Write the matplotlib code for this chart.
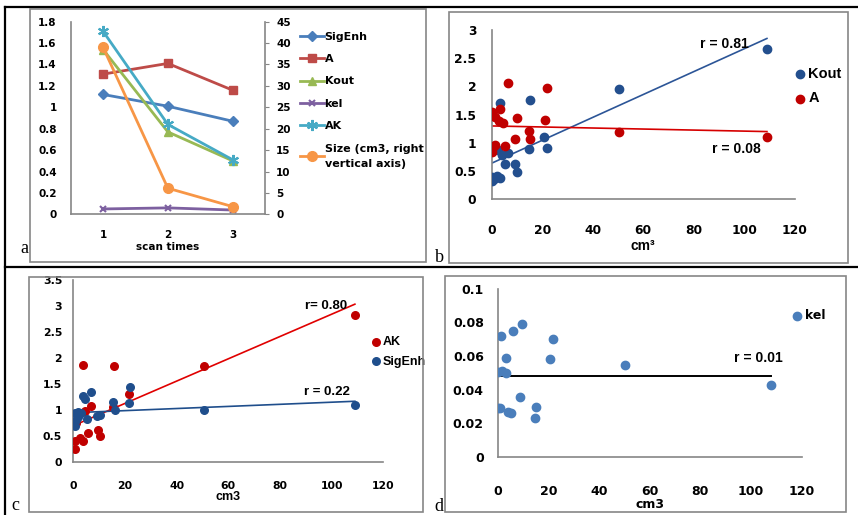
import matplotlib
matplotlib.use("Agg")
import matplotlib.pyplot as plt
from matplotlib.lines import Line2D
from matplotlib.patches import Rectangle
from matplotlib.ticker import FuncFormatter, MultipleLocator

W, H = 858, 515

# (a) mean values per scan
scans = [1, 2, 3]
sigenh_a = [1.12, 1.01, 0.87]
a_a = [1.31, 1.41, 1.16]
kout_a = [1.54, 0.77, 0.50]
kel_a = [0.05, 0.06, 0.04]
ak_a = [1.71, 0.84, 0.51]
size_a = [39.0, 6.1, 1.8]

# (b) Kout and A vs tumour volume
kout_x = [0.3, 1.0, 2.0, 3.3, 0.3, 2.4, 4.2, 6.3, 5.3, 9.2, 9.9, 14.8, 21.9, 20.8, 3.3, 15.2, 50.4, 108.9]
kout_y = [0.32, 0.36, 0.42, 0.37, 0.40, 0.87, 0.78, 0.82, 0.62, 0.63, 0.49, 0.90, 0.91, 1.10, 1.71, 1.76, 1.96, 2.66]
a_x = [0.3, 1.5, 3.4, 2.8, 4.3, 6.3, 9.9, 21.1, 22.0, 14.9, 9.2, 15.3, 5.3, 1.5, 0.4, 0.3, 50.4, 108.9]
a_y = [1.54, 1.45, 1.60, 1.39, 1.36, 2.06, 1.44, 1.41, 1.97, 1.21, 1.06, 1.07, 0.94, 0.96, 0.92, 0.83, 1.19, 1.11]
fit_x_b = [0, 109]
kout_fit = [0.64, 2.85]
a_fit = [1.30, 1.20]

# (c) AK and SigEnh vs tumour volume
ak_x = [0.8, 0.8, 2.5, 3.8, 5.7, 9.6, 10.4, 1.2, 4.5, 6.7, 15.5, 21.4, 3.9, 15.9, 50.7, 109.1]
ak_y = [0.26, 0.41, 0.46, 0.41, 0.56, 0.62, 0.51, 0.76, 0.98, 1.08, 1.05, 1.31, 1.87, 1.85, 1.84, 2.84]
sig_x = [0.8, 0.8, 1.8, 3.1, 1.2, 2.0, 5.4, 9.0, 10.3, 3.6, 4.5, 6.7, 15.4, 16.1, 21.4, 21.8, 50.7, 109.1]
sig_y = [0.69, 0.94, 0.97, 0.94, 0.80, 0.86, 0.82, 0.89, 0.90, 1.27, 1.22, 1.35, 1.15, 1.00, 1.14, 1.44, 1.00, 1.10]
fit_x_c = [0.5, 109]
ak_fit = [0.71, 3.04]
sig_fit = [0.95, 1.17]

# (d) kel vs tumour volume
kel_x = [0.2, 1.6, 3.3, 1.3, 6.2, 9.7, 21.7, 3.3, 20.8, 50.3, 107.8, 8.8, 0.2, 0.9, 4.2, 5.1, 15.0, 14.6]
kel_y = [0.0503, 0.0513, 0.0497, 0.0721, 0.0750, 0.0788, 0.0701, 0.0586, 0.0582, 0.0548, 0.0430,
         0.0355, 0.0293, 0.0293, 0.0269, 0.0261, 0.0295, 0.0233]
fit_x_d = [0, 108]
kel_fit = [0.0481, 0.0481]

GRAY = "#868686"
TICKFONT = "DejaVu Sans"
LABFONT = "Liberation Sans"


def rect(x0, y0, x1, y1):
    return [x0 / W, 1 - y1 / H, (x1 - x0) / W, (y1 - y0) / H]


def gfmt(v, pos):
    return f"{v:g}"


def style_axes(ax, tick_size, xpad, ypad):
    for side in ["top", "right"]:
        ax.spines[side].set_visible(False)
    for side in ["left", "bottom"]:
        ax.spines[side].set_color(GRAY)
        ax.spines[side].set_linewidth(1.2)
    ax.tick_params(axis="both", length=0, labelsize=tick_size)
    ax.tick_params(axis="x", pad=xpad)
    ax.tick_params(axis="y", pad=ypad)
    ax.yaxis.set_major_formatter(FuncFormatter(gfmt))
    for lab in ax.get_xticklabels() + ax.get_yticklabels():
        lab.set_fontfamily(TICKFONT)
        lab.set_fontweight("bold")
    ax.set_facecolor("none")


fig = plt.figure(figsize=(W / 100, H / 100), dpi=100)

# frame: black rules and grey chart boxes
for xs, ys in [([5, 858], [6.5, 6.5]), ([5, 5], [6.5, 515]), ([5, 858], [266.5, 266.5])]:
    fig.add_artist(Line2D([x / W for x in xs], [1 - y / H for y in ys], color="black", lw=1.6))
for x0, y0, x1, y1 in [(30, 8.5, 426, 262), (448.5, 12, 848, 263), (28.5, 277, 423, 512), (445, 276, 846, 512)]:
    fig.add_artist(Rectangle((x0 / W, 1 - y1 / H), (x1 - x0) / W, (y1 - y0) / H,
                             transform=fig.transFigure, fill=False, ec=GRAY, lw=1.2))

for letter, x, y in [("a", 20, 253), ("b", 435, 262), ("c", 11, 510), ("d", 434, 511)]:
    fig.text(x / W, 1 - y / H, letter, family="Liberation Serif", fontsize=13, va="baseline")

# ---- panel a
ax = fig.add_axes(rect(70.7, 21.7, 265, 214.3))
ax2 = ax.twinx()
ax.plot(scans, sigenh_a, color="#4A7EBB", lw=2, marker="D", ms=5, label="SigEnh")
ax.plot(scans, a_a, color="#BE4B48", lw=2, marker="s", ms=6, label="A")
ax.plot(scans, kout_a, color="#98B954", lw=2, marker="^", ms=6, label="Kout")
ax.plot(scans, kel_a, color="#7D60A0", lw=2, marker="x", ms=5, mew=1.5, label="kel")
ax.plot(scans, ak_a, color="#46AAC5", lw=2, marker=(6, 2, 0), ms=8, mew=1.5, label="AK")
ax2.plot(scans, size_a, color="#F79646", lw=2, marker="o", ms=7, label="Size (cm3, right\nvertical axis)")
ax.set_xlim(0.5, 3.5)
ax.set_ylim(0, 1.8)
ax2.set_ylim(0, 45)
ax.set_xticks(scans)
ax.yaxis.set_major_locator(MultipleLocator(0.2))
ax2.yaxis.set_major_locator(MultipleLocator(5))
style_axes(ax, 7.5, 11, 10)
ax2.spines["top"].set_visible(False)
ax2.spines["left"].set_visible(False)
ax2.spines["bottom"].set_visible(False)
ax2.spines["right"].set_color(GRAY)
ax2.spines["right"].set_linewidth(1.2)
ax2.tick_params(axis="y", length=3, color=GRAY, labelsize=7.5, pad=5)
for lab in ax2.get_yticklabels():
    lab.set_fontfamily(TICKFONT)
    lab.set_fontweight("bold")
ax.set_xlabel("scan times", family=TICKFONT, fontweight="bold", fontsize=7.5, labelpad=2)
h1, l1 = ax.get_legend_handles_labels()
h2, l2 = ax2.get_legend_handles_labels()
leg = ax.legend(h1 + h2, l1 + l2, loc="upper left", bbox_to_anchor=(294 / W, 1 - 26 / H),
                bbox_transform=fig.transFigure, frameon=False, handlelength=2.2,
                handletextpad=0.05, labelspacing=1.12, borderpad=0,
                prop={"family": TICKFONT, "weight": "bold", "size": 8})
for t in leg.get_texts():
    t.set_linespacing(1.6)

# ---- panel b
ax = fig.add_axes(rect(491.7, 30, 794.7, 199.3))
ax.plot(fit_x_b, kout_fit, color="#2C5597", lw=1.2)
ax.plot(fit_x_b, a_fit, color="#D60000", lw=1.2)
ax.scatter(kout_x, kout_y, s=36, color="#234F8E", label="Kout", zorder=3)
ax.scatter(a_x, a_y, s=36, color="#C00000", label="A", zorder=3)
ax.set_xlim(0, 120)
ax.set_ylim(0, 3)
ax.xaxis.set_major_locator(MultipleLocator(20))
ax.yaxis.set_major_locator(MultipleLocator(0.5))
style_axes(ax, 8.8, 18, 11)
ax.set_xlabel("cm³", family=LABFONT, fontweight="bold", fontsize=10, labelpad=1)
ax.text(92, 2.75, "r = 0.81", family=LABFONT, fontweight="bold", fontsize=10, ha="center", va="center")
ax.text(97, 0.89, "r = 0.08", family=LABFONT, fontweight="bold", fontsize=10, ha="center", va="center")
ax.legend(loc="upper left", bbox_to_anchor=(788 / W, 1 - 60 / H), bbox_transform=fig.transFigure,
          frameon=False, handlelength=0.6, handletextpad=0.3, labelspacing=0.7, borderpad=0,
          scatterpoints=1, prop={"family": LABFONT, "weight": "bold", "size": 10.5})

# ---- panel c
ax = fig.add_axes(rect(73.3, 280.3, 383.3, 462))
ax.plot(fit_x_c, ak_fit, color="#E00000", lw=1.2)
ax.plot(fit_x_c, sig_fit, color="#1F4E8C", lw=1.2)
ax.scatter(ak_x, ak_y, s=30, color="#C00000", label="AK", zorder=3)
ax.scatter(sig_x, sig_y, s=30, color="#1F4E8C", label="SigEnh", zorder=3)
ax.set_xlim(0, 120)
ax.set_ylim(0, 3.5)
ax.xaxis.set_major_locator(MultipleLocator(20))
ax.yaxis.set_major_locator(MultipleLocator(0.5))
style_axes(ax, 7.8, 14, 8)
ax.set_xlabel("cm3", family=LABFONT, fontweight="bold", fontsize=9, labelpad=0)
ax.text(98, 3.0, "r= 0.80", family=LABFONT, fontweight="bold", fontsize=9.5, ha="center", va="center")
ax.text(98, 1.35, "r = 0.22", family=LABFONT, fontweight="bold", fontsize=9.5, ha="center", va="center")
ax.legend(loc="upper left", bbox_to_anchor=(366 / W, 1 - 330 / H), bbox_transform=fig.transFigure,
          frameon=False, handlelength=0.6, handletextpad=0.2, labelspacing=0.6, borderpad=0,
          scatterpoints=1, prop={"family": LABFONT, "weight": "bold", "size": 9})

# ---- panel d
ax = fig.add_axes(rect(497.7, 288.7, 801.7, 457))
ax.plot(fit_x_d, kel_fit, color="black", lw=1.4)
ax.scatter(kel_x, kel_y, s=36, color="#4A7EBB", label="kel", zorder=3)
ax.set_xlim(0, 120)
ax.set_ylim(0, 0.1)
ax.xaxis.set_major_locator(MultipleLocator(20))
ax.yaxis.set_major_locator(MultipleLocator(0.02))
style_axes(ax, 9, 20, 10)
ax.set_xlabel("cm3", family=TICKFONT, fontweight="bold", fontsize=9, labelpad=0)
ax.text(103, 0.059, "r = 0.01", family=LABFONT, fontweight="bold", fontsize=10, ha="center", va="center")
ax.legend(loc="upper left", bbox_to_anchor=(787 / W, 1 - 303 / H), bbox_transform=fig.transFigure,
          frameon=False, handlelength=0.6, handletextpad=0.3, borderpad=0,
          scatterpoints=1, prop={"family": TICKFONT, "weight": "bold", "size": 9})

fig.savefig("out.png", dpi=100)
